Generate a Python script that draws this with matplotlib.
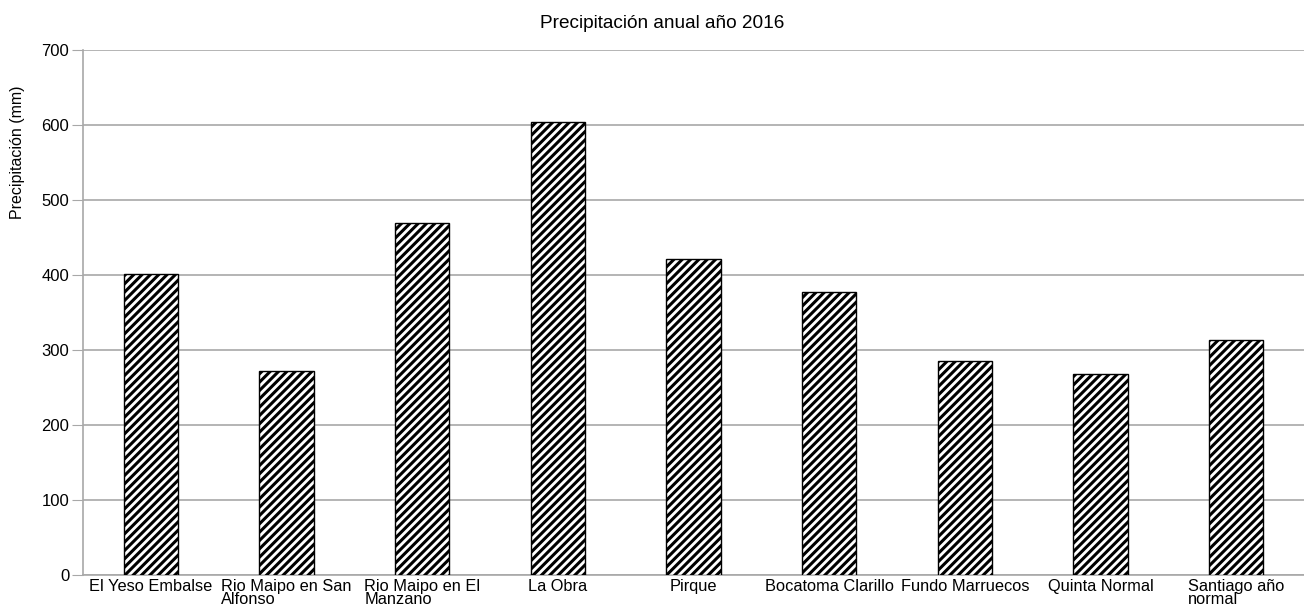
import matplotlib.pyplot as plt
import numpy as np

plt.rcParams['font.family'] = ['Liberation Sans', 'DejaVu Sans']
plt.rcParams['hatch.linewidth'] = 2.2

estaciones = ['El Yeso Embalse', 'Rio Maipo en San\nAlfonso', 'Rio Maipo en El\nManzano',
              'La Obra', 'Pirque', 'Bocatoma Clarillo', 'Fundo Marruecos',
              'Quinta Normal', 'Santiago año\nnormal']
precip = [402, 272, 470, 604, 422, 378, 285, 268, 313]
yticks = [0, 100, 200, 300, 400, 500, 600, 700]

fig = plt.figure(figsize=(13.04, 6.09), dpi=100)
ax = fig.add_axes([0.0637, 0.0558, 0.9363, 0.862])

x = np.arange(len(estaciones))
ax.bar(x, precip, width=0.4, color='white', edgecolor='black', hatch='////', linewidth=1, zorder=3)

ax.set_xlim(-0.5, len(estaciones) - 0.5)
ax.set_ylim(0, 700)
ax.set_yticks(yticks)
ax.yaxis.grid(True, color='#a8a8a8', linewidth=1.2, zorder=0)
ax.set_xticks(x)
ax.set_xticklabels(estaciones, fontsize=11.8, linespacing=0.8, multialignment='left')
ax.tick_params(axis='x', length=0, pad=3)
ax.tick_params(axis='y', length=8, color='#a8a8a8', labelsize=12, pad=2)
for s in ['top', 'right']:
    ax.spines[s].set_visible(False)
for s in ['left', 'bottom']:
    ax.spines[s].set_color('#a8a8a8')
    ax.spines[s].set_linewidth(1.2)

fig.text(18 / 1304, 1 - 152 / 609, 'Precipitación (mm)', fontsize=11.5,
         rotation=90, ha='center', va='center')
fig.text(662 / 1304, 1 - 23 / 609, 'Precipitación anual año 2016', fontsize=13.7,
         ha='center', va='center')

fig.savefig('out.png', dpi=100)
